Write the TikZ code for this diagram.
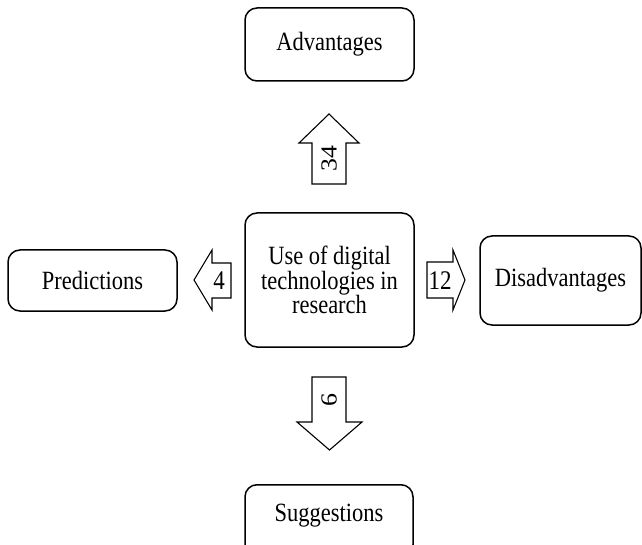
\documentclass[tikz,border=0pt]{standalone}
\usepackage{graphicx}
\usepackage{fontspec}
\setmainfont{Liberation Serif}
% glyphs in this figure are set slightly taller than wide
\newcommand\tallset[1]{\scalebox{1}[1.17]{#1}}
\begin{document}
\begin{tikzpicture}[x=1pt,y=-1pt,
  topic/.style={draw, line width=1.5pt, rounded corners=12pt, inner sep=0pt,
    font=\fontsize{22.5}{24.5}\selectfont, align=center},
  blockarrow/.style={draw, line width=1.1pt, line join=miter, fill=white},
  count/.style={font=\fontsize{23}{24}\selectfont, inner sep=0pt}]
\useasboundingbox (0,0) rectangle (642,545);

% central theme and its four categories
\node[topic, minimum width=169pt, minimum height=134pt] (core) at (329.5,280)
  {\tallset{Use of digital}\\\tallset{technologies in}\\\tallset{research}};
\node[topic, minimum width=169pt, minimum height=73pt] (adv) at (329.5,44.5) {\tallset{Advantages}};
\node[topic, minimum width=169pt, minimum height=61pt] (pred) at (92.5,280.5) {\tallset{Predictions}};
\node[topic, minimum width=161pt, minimum height=89pt] (dis) at (560.5,280.5) {\tallset{Disadvantages}};
\node[topic, minimum width=168pt, minimum height=72pt, anchor=north] (sug) at (329,484) {};
\node[font=\fontsize{22.5}{24.5}\selectfont] (sugtext) at (329,516) {\tallset{Suggestions}};

% block arrows pointing from the centre towards each category
\draw[blockarrow] (312,184) -- (312,143) -- (299,143) -- (329,114) -- (359,143)
  -- (346,143) -- (346,184) -- cycle;
\node[count, rotate=90] (nadv) at (329,159) {\scalebox{1.12}[1]{34}};

\draw[blockarrow] (312,377) -- (312,422) -- (297,422) -- (329.5,450) -- (362,422)
  -- (346,422) -- (346,377) -- cycle;
\node[count, rotate=-90] (nsug) at (329,400) {\scalebox{1.12}[1]{9}};

\draw[blockarrow] (231,263) -- (212,263) -- (212,250) -- (194,280) -- (212,310)
  -- (212,298) -- (231,298) -- cycle;
\node[count] (npred) at (219,281) {\tallset{4}};

\draw[blockarrow] (427,262) -- (453,262) -- (453,250) -- (465,280) -- (453,310)
  -- (453,298) -- (427,298) -- cycle;
\node[count] (ndis) at (440,281) {\tallset{12}};
\end{tikzpicture}
\end{document}
